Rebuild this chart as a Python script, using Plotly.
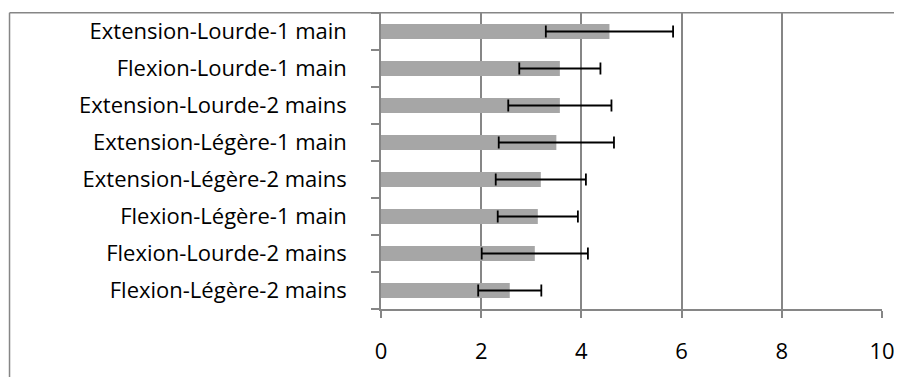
import plotly.graph_objects as go

categories = [
    "Extension-Lourde-1 main",
    "Flexion-Lourde-1 main",
    "Extension-Lourde-2 mains",
    "Extension-Légère-1 main",
    "Extension-Légère-2 mains",
    "Flexion-Légère-1 main",
    "Flexion-Lourde-2 mains",
    "Flexion-Légère-2 mains",
]
means = [4.56, 3.57, 3.57, 3.50, 3.19, 3.13, 3.07, 2.57]
errors = [1.27, 0.81, 1.03, 1.15, 0.90, 0.80, 1.06, 0.63]
x_ticks = [0, 2, 4, 6, 8, 10]

GRID = "#868686"
FONT = "Open Sans"
FS = 22

# page body has an 8px margin; positions below are in figure pixels
OFF = 8
plot_left = 381 - OFF
plot_right = 882.3 - OFF
plot_top = 13 - OFF
plot_bottom = 309 - OFF
W, H = 902, 377

fig = go.Figure()
fig.add_trace(go.Bar(
    y=categories,
    x=means,
    orientation="h",
    width=0.4,
    marker=dict(color="#A6A6A6", line=dict(width=0)),
    error_x=dict(type="data", array=errors, visible=True,
                 color="black", thickness=1.8, width=6),
    hoverinfo="x+y",
))

fig.update_layout(
    width=W, height=H,
    margin=dict(l=plot_left, r=W - plot_right, t=plot_top, b=H - plot_bottom, pad=0),
    paper_bgcolor="white",
    plot_bgcolor="white",
    showlegend=False,
    font=dict(family=FONT, size=FS, color="black"),
)

fig.update_xaxes(
    range=[0, 10],
    tickvals=x_ticks,
    ticktext=[str(v) for v in x_ticks],
    showgrid=True, gridcolor=GRID, gridwidth=1.5,
    showline=True, linecolor=GRID, linewidth=1.5,
    ticks="outside", ticklen=7, tickwidth=1.5, tickcolor=GRID,
    ticklabelstandoff=15,
    zeroline=False,
    automargin=False,
    tickfont=dict(family=FONT, size=FS, color="black"),
)
fig.update_yaxes(
    categoryorder="array",
    categoryarray=categories[::-1],
    showgrid=False,
    showline=True, linecolor=GRID, linewidth=1.5,
    ticks="outside", ticklen=8, tickwidth=1.5, tickcolor=GRID,
    tickson="boundaries",
    ticklabelstandoff=28,
    zeroline=False,
    automargin=False,
    tickfont=dict(family=FONT, size=FS, color="black"),
)

# chart-area border (only top and left edges visible in the crop)
px_w = plot_right - plot_left
px_h = plot_bottom - plot_top
left_paper = (9.3 - OFF - plot_left) / px_w
top_paper = 1 + (plot_top - (12.7 - OFF)) / px_h
fig.add_shape(type="line", xref="paper", yref="paper",
              x0=left_paper, x1=1.2, y0=top_paper, y1=top_paper,
              line=dict(color=GRID, width=1.5), layer="above")
fig.add_shape(type="line", xref="paper", yref="paper",
              x0=left_paper, x1=left_paper, y0=top_paper, y1=-0.5,
              line=dict(color=GRID, width=1.5), layer="above")

fig.write_html("out.html")
